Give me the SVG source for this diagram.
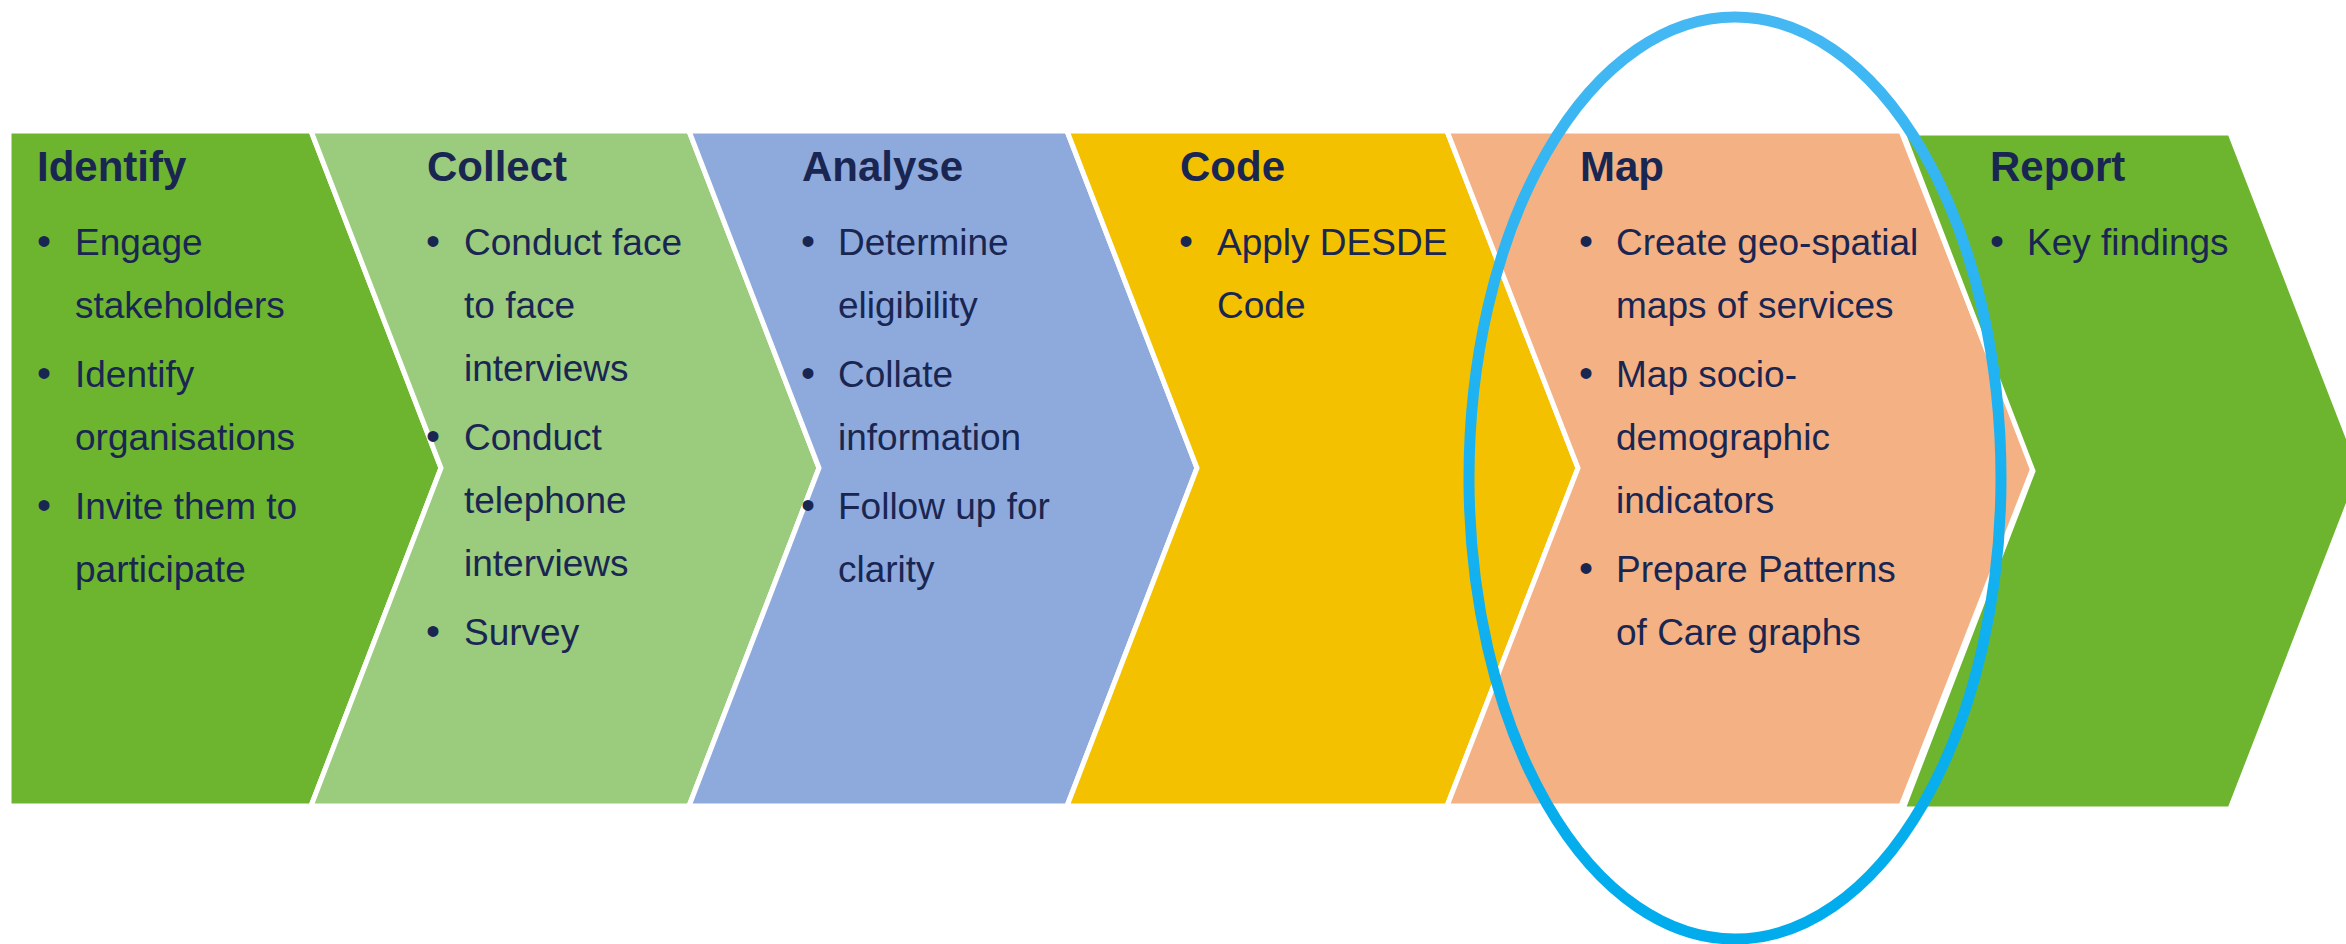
<svg xmlns="http://www.w3.org/2000/svg" width="2346" height="944" viewBox="0 0 2346 944">
  <defs>
    <linearGradient id="ringGrad" x1="0" y1="0" x2="0" y2="1">
      <stop offset="0" stop-color="#45b8f3"/>
      <stop offset="0.45" stop-color="#1bb2f1"/>
      <stop offset="1" stop-color="#00acec"/>
    </linearGradient>
  </defs>
  <style>
    .stage { stroke: #ffffff; stroke-width: 5; stroke-linejoin: miter; }
    .title { font-family: "Liberation Sans", Arial, sans-serif; font-weight: bold; font-size: 42px; fill: #1a2652; }
    .item { font-family: "Liberation Sans", Arial, sans-serif; font-size: 37px; fill: #1a2652; }
    .dot { font-family: "Liberation Sans", Arial, sans-serif; font-size: 40px; fill: #1a2652; text-anchor: middle; }
  </style>
  <rect width="2346" height="944" fill="#ffffff"/>

  <!-- Identify -->
  <g id="identify">
    <polygon class="stage" fill="#6db52f" points="9,131 311,131 441,468 311,806 9,806"/>
    <text class="title" x="37" y="181">Identify</text>
    <text class="dot" x="44" y="255">•</text>
    <text class="item" x="75" y="255">Engage</text>
    <text class="item" x="75" y="318">stakeholders</text>
    <text class="dot" x="44" y="387">•</text>
    <text class="item" x="75" y="387">Identify</text>
    <text class="item" x="75" y="450">organisations</text>
    <text class="dot" x="44" y="519">•</text>
    <text class="item" x="75" y="519">Invite them to</text>
    <text class="item" x="75" y="582">participate</text>
  </g>

  <!-- Collect -->
  <g id="collect">
    <polygon class="stage" fill="#9bcb7d" points="311,131 689,131 819,468 689,806 311,806 441,468"/>
    <text class="title" x="427" y="181">Collect</text>
    <text class="dot" x="433" y="255">•</text>
    <text class="item" x="464" y="255">Conduct face</text>
    <text class="item" x="464" y="318">to face</text>
    <text class="item" x="464" y="381">interviews</text>
    <text class="dot" x="433" y="450">•</text>
    <text class="item" x="464" y="450">Conduct</text>
    <text class="item" x="464" y="513">telephone</text>
    <text class="item" x="464" y="576">interviews</text>
    <text class="dot" x="433" y="645">•</text>
    <text class="item" x="464" y="645">Survey</text>
  </g>

  <!-- Analyse -->
  <g id="analyse">
    <polygon class="stage" fill="#8eaadc" points="689,131 1067,131 1197,468 1067,806 689,806 819,468"/>
    <text class="title" x="802" y="181">Analyse</text>
    <text class="dot" x="808" y="255">•</text>
    <text class="item" x="838" y="255">Determine</text>
    <text class="item" x="838" y="318">eligibility</text>
    <text class="dot" x="808" y="387">•</text>
    <text class="item" x="838" y="387">Collate</text>
    <text class="item" x="838" y="450">information</text>
    <text class="dot" x="808" y="519">•</text>
    <text class="item" x="838" y="519">Follow up for</text>
    <text class="item" x="838" y="582">clarity</text>
  </g>

  <!-- Code -->
  <g id="code">
    <polygon class="stage" fill="#f4c100" points="1067,131 1447,131 1578,468 1447,806 1067,806 1197,468"/>
    <text class="title" x="1180" y="181">Code</text>
    <text class="dot" x="1186" y="255">•</text>
    <text class="item" x="1217" y="255">Apply DESDE</text>
    <text class="item" x="1217" y="318">Code</text>
  </g>

  <!-- Map -->
  <g id="map">
    <polygon class="stage" fill="#f4b183" points="1447,131 1901,131 2033,468 1901,806 1447,806 1578,468"/>
    <text class="title" x="1580" y="181">Map</text>
    <text class="dot" x="1586" y="255">•</text>
    <text class="item" x="1616" y="255">Create geo-spatial</text>
    <text class="item" x="1616" y="318">maps of services</text>
    <text class="dot" x="1586" y="387">•</text>
    <text class="item" x="1616" y="387">Map socio-</text>
    <text class="item" x="1616" y="450">demographic</text>
    <text class="item" x="1616" y="513">indicators</text>
    <text class="dot" x="1586" y="582">•</text>
    <text class="item" x="1616" y="582">Prepare Patterns</text>
    <text class="item" x="1616" y="645">of Care graphs</text>
  </g>

  <!-- Report -->
  <g id="report">
    <polygon class="stage" fill="#6db52f" points="1903,133 2230,133 2361,471 2230,809 1903,809 2033,471"/>
    <text class="title" x="1990" y="181">Report</text>
    <text class="dot" x="1997" y="255">•</text>
    <text class="item" x="2027" y="255">Key findings</text>
  </g>

  <!-- highlight ring around the Map stage -->
  <g id="highlight">
    <ellipse cx="1735" cy="478" rx="266" ry="461" fill="none" stroke="url(#ringGrad)" stroke-width="11"/>
  </g>
</svg>
